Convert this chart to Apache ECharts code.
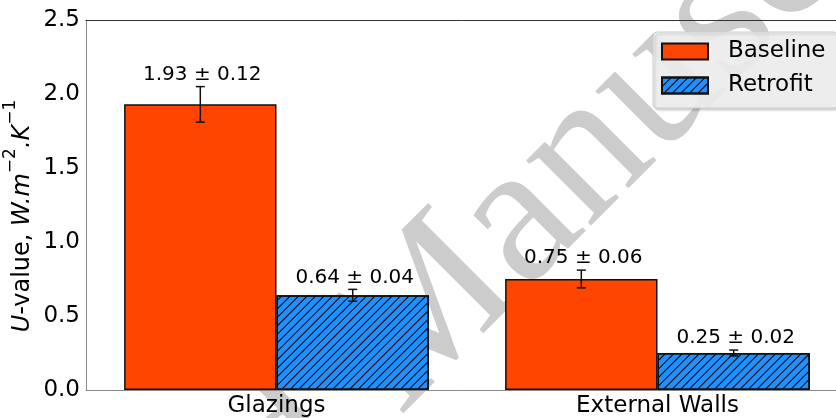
<!DOCTYPE html>
<html><head><meta charset="utf-8">
<script src="https://cdn.jsdelivr.net/npm/echarts@6/dist/echarts.min.js"></script>
<style>html,body{margin:0;padding:0;background:#fff}#c{width:836px;height:418px}</style>
</head><body><div id="c"></div>
<script>
const categories = ['Glazings', 'External Walls'];
const seriesNames = ['Baseline', 'Retrofit'];
const baselineValues = [1.93, 0.75];
const baselineErrors = [0.12, 0.06];
const retrofitValues = [0.64, 0.25];
const retrofitErrors = [0.04, 0.02];
const yTicks = [0.0, 0.5, 1.0, 1.5, 2.0, 2.5];

const FONT = '"DejaVu Sans", sans-serif';
const chart = echarts.init(document.getElementById('c'), null, {renderer: 'canvas'});

function errorSeries(values, errors, sign) {
  return {
    type: 'custom',
    silent: true,
    z: 5,
    data: values.map((v, i) => [i, v, errors[i]]),
    encode: {x: 0, y: 1},
    renderItem(params, api) {
      const i = api.value(0), v = api.value(1), e = api.value(2);
      const band = api.size([1, 0])[0];
      const x = api.coord([i, v])[0] + sign * band * 0.2;
      const yHi = api.coord([i, v + e])[1];
      const yLo = api.coord([i, v - e])[1];
      const cap = 4.5;
      const st = {stroke: '#111', lineWidth: 1.5};
      return {type: 'group', children: [
        {type: 'line', shape: {x1: x, y1: yHi, x2: x, y2: yLo}, style: st},
        {type: 'line', shape: {x1: x - cap, y1: yHi, x2: x + cap, y2: yHi}, style: st},
        {type: 'line', shape: {x1: x - cap, y1: yLo, x2: x + cap, y2: yLo}, style: st},
        {type: 'text', x: x + 2, y: yHi - 12, style: {
          text: v.toFixed(2) + ' \u00b1 ' + e.toFixed(2),
          fill: '#000', font: '20px ' + FONT, align: 'center', verticalAlign: 'middle'}}
      ]};
    }
  };
}

const wmFont = '200px "Liberation Serif", serif';
const ang = Math.PI / 4;
const mx = 362, my = 380;

chart.setOption({
  animation: false,
  backgroundColor: '#fff',
  grid: {left: 86, top: 20, width: 762, height: 370, show: false,
    outerBoundsMode: 'none', containLabel: false},
  graphic: [
    {type: 'text', z: -10, silent: true, x: mx, y: my, rotation: ang,
      style: {text: 'Manuscript', font: wmFont, fill: '#cccccc', align: 'left', verticalAlign: 'middle'}},
    {type: 'text', z: -10, silent: true, x: mx - Math.cos(ang) * 50, y: my + Math.sin(ang) * 50, rotation: ang,
      style: {text: 'Accepted', font: wmFont, fill: '#cccccc', align: 'right', verticalAlign: 'middle'}},
    {type: 'text', z: 10, silent: true, x: 18.5, y: 216, rotation: Math.PI / 2,
      style: {
        text: '{i|U}{n|-value, }{i|W.m}{s|\u22122}{i|.K}{s|\u22121}',
        align: 'center', verticalAlign: 'middle', fill: '#000',
        rich: {
          n: {fontSize: 24, fontFamily: FONT, lineHeight: 32, verticalAlign: 'bottom', fill: '#000'},
          i: {fontSize: 24, fontFamily: FONT, fontStyle: 'italic', lineHeight: 32, verticalAlign: 'bottom', fill: '#000'},
          s: {fontSize: 17, fontFamily: FONT, lineHeight: 17, verticalAlign: 'top', fill: '#000'}
        }
      }}
  ],
  legend: {
    data: seriesNames.map(n => ({name: n, icon: 'rect'})),
    orient: 'vertical',
    left: 653, top: 32,
    itemWidth: 46, itemHeight: 16, itemGap: 11,
    padding: [8, 12, 11, 8],
    backgroundColor: 'rgba(240,240,240,0.88)',
    borderColor: '#cccccc', borderWidth: 1, borderRadius: 4,
    shadowColor: 'rgba(0,0,0,0.18)', shadowOffsetX: 2, shadowOffsetY: 2, shadowBlur: 2,
    textStyle: {fontSize: 23, fontFamily: FONT, color: '#000', padding: [0, 0, 0, 15]},
    selectedMode: false
  },
  xAxis: [{
    type: 'category',
    data: categories,
    axisLine: {lineStyle: {color: '#888', width: 1}},
    axisTick: {alignWithLabel: true, length: 4, lineStyle: {color: '#888'}},
    axisLabel: {fontSize: 23, fontFamily: FONT, color: '#000', margin: 5},
    splitLine: {show: false}
  }, {
    type: 'category',
    position: 'top',
    data: categories,
    axisLine: {show: true, lineStyle: {color: '#333', width: 1}},
    axisTick: {show: false},
    axisLabel: {show: false},
    splitLine: {show: false}
  }],
  yAxis: {
    type: 'value',
    min: yTicks[0], max: yTicks[yTicks.length - 1], interval: yTicks[1] - yTicks[0],
    axisLine: {show: true, lineStyle: {color: '#888', width: 1}},
    axisTick: {show: false},
    axisLabel: {fontSize: 23, fontFamily: FONT, color: '#000', margin: 6, formatter: v => v.toFixed(1)},
    splitLine: {show: false}
  },
  series: [
    {name: seriesNames[0], type: 'bar', data: baselineValues, barWidth: '40%', barGap: '0%', z: 3,
      itemStyle: {color: '#FF4500', borderColor: '#111', borderWidth: 1.5}},
    {name: seriesNames[1], type: 'bar', data: retrofitValues, barWidth: '40%', barGap: '0%', z: 3,
      itemStyle: {color: '#1E90FF', borderColor: '#111', borderWidth: 1.5,
        decal: {symbol: 'rect', symbolSize: 1, dashArrayX: [1, 0], dashArrayY: [1, 4.6], rotation: -Math.PI / 4, color: '#000'}}},
    errorSeries(baselineValues, baselineErrors, -1),
    errorSeries(retrofitValues, retrofitErrors, 1)
  ]
});
</script></body></html>
